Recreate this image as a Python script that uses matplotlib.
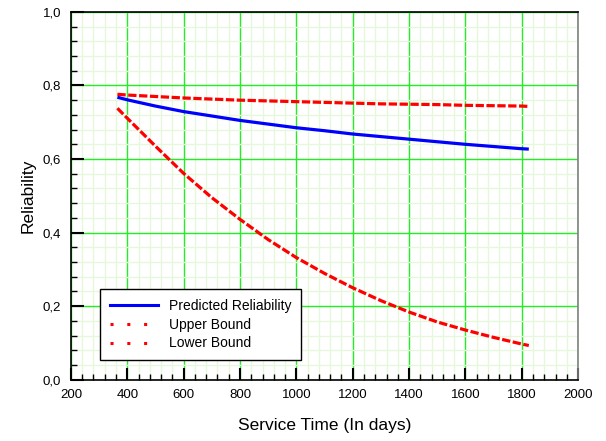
import matplotlib.pyplot as plt
from matplotlib.lines import Line2D
from matplotlib.ticker import MultipleLocator, FuncFormatter

plt.rcParams['font.family'] = ['Liberation Sans', 'DejaVu Sans']
plt.rcParams['xtick.direction'] = 'in'
plt.rcParams['ytick.direction'] = 'in'

# service time in days
days = [365, 400, 500, 600, 700, 800, 900, 1000, 1100, 1200, 1300,
        1400, 1500, 1600, 1700, 1800, 1825]
predicted = [0.768, 0.761, 0.744, 0.729, 0.717, 0.705, 0.695, 0.685, 0.677,
             0.668, 0.661, 0.654, 0.647, 0.640, 0.634, 0.628, 0.627]
upper = [0.776, 0.774, 0.770, 0.766, 0.763, 0.760, 0.758, 0.756, 0.754,
         0.752, 0.750, 0.749, 0.748, 0.746, 0.745, 0.744, 0.743]
lower = [0.738, 0.711, 0.635, 0.561, 0.495, 0.436, 0.381, 0.332, 0.289,
         0.250, 0.215, 0.184, 0.157, 0.135, 0.115, 0.097, 0.093]

fig = plt.figure(figsize=(6.06, 4.41), dpi=100)
ax = fig.add_axes([0.117, 0.139, 0.837, 0.834])

ax.plot(days, predicted, color='#0000ff', lw=2.3, solid_capstyle='butt', zorder=4)
ax.plot(days, upper, color='#ff0000', lw=2.3, dashes=(2.6, 0.8), zorder=3)
ax.plot(days, lower, color='#ff0000', lw=2.3, dashes=(2.6, 0.8), zorder=3)

ax.set_xlim(200, 2000)
ax.set_ylim(0, 1)
ax.xaxis.set_major_locator(MultipleLocator(200))
ax.xaxis.set_minor_locator(MultipleLocator(40))
ax.yaxis.set_major_locator(MultipleLocator(0.2))
ax.yaxis.set_minor_locator(MultipleLocator(0.04))
ax.yaxis.set_major_formatter(FuncFormatter(lambda v, p: f'{v:.1f}'.replace('.', ',')))

ax.grid(which='minor', color='#e6f8dc', lw=1.0)
ax.grid(which='major', color='#22ee22', lw=1.0)
ax.set_axisbelow(True)

ax.tick_params(which='major', direction='in', length=9, width=1.5, labelsize=9.5,
               top=False, right=False, pad=7)
ax.tick_params(which='minor', direction='in', length=4, width=1, top=False, right=False)

for s in ['left', 'bottom', 'top']:
    ax.spines[s].set_linewidth(1.2)
    ax.spines[s].set_color('black')
ax.spines['right'].set_color('#808080')
ax.spines['right'].set_linewidth(1.2)

ax.set_xlabel('Service Time (In days)', fontsize=12.5, labelpad=12)
ax.set_ylabel('Reliability', fontsize=12.5, labelpad=5)

handles = [Line2D([], [], color='#0000ff', lw=2.2),
           Line2D([], [], color='#ff0000', lw=2.2, dashes=(1.0, 4.5)),
           Line2D([], [], color='#ff0000', lw=2.2, dashes=(1.0, 4.5))]
leg = ax.legend(handles, ['Predicted Reliability', 'Upper Bound', 'Lower Bound'],
                loc='lower left', bbox_to_anchor=(0.057, 0.053), borderaxespad=0,
                fontsize=10, fancybox=False, framealpha=1, edgecolor='black',
                handlelength=3.5, borderpad=0.7, labelspacing=0.35,
                handletextpad=0.8)
leg.get_frame().set_linewidth(1.0)

fig.savefig('out.png', dpi=100)
